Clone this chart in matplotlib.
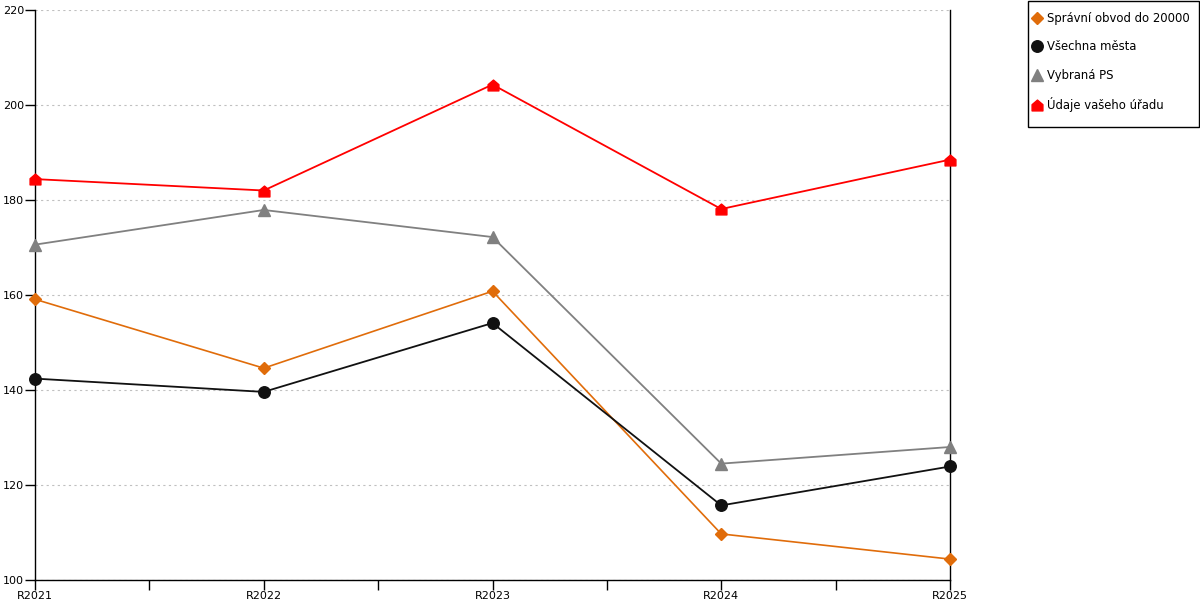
import matplotlib.pyplot as plt
from matplotlib.path import Path
from matplotlib.patches import Rectangle

years = ['R2021', 'R2022', 'R2023', 'R2024', 'R2025']

spravni_obvod = [159.1, 144.6, 160.8, 109.7, 104.4]
vsechna_mesta = [142.4, 139.6, 154.1, 115.7, 123.9]
vybrana_ps = [170.6, 177.9, 172.2, 124.5, 128.0]
vas_urad = [184.4, 182.0, 204.3, 178.1, 188.5]

# house shaped marker (square with a roof)
house = Path([(-1, -1), (1, -1), (1, 0.15), (0, 1), (-1, 0.15), (-1, -1)],
             [Path.MOVETO, Path.LINETO, Path.LINETO, Path.LINETO, Path.LINETO, Path.CLOSEPOLY])

plt.rcParams['font.family'] = ['DejaVu Sans']

fig = plt.figure(figsize=(12, 6), dpi=100)
ax = fig.add_axes([35 / 1200, 20 / 600, 915 / 1200, 570 / 600])

x = list(range(len(years)))
ax.plot(x, spravni_obvod, color='#E06C0A', lw=1.2, marker='D', ms=6,
        label='Správní obvod do 20000', clip_on=False, zorder=3)
ax.plot(x, vsechna_mesta, color='#111111', lw=1.3, marker='o', ms=8.3,
        label='Všechna města', clip_on=False, zorder=3)
ax.plot(x, vybrana_ps, color='#808080', lw=1.3, marker='^', ms=8.3,
        label='Vybraná PS', clip_on=False, zorder=3)
ax.plot(x, vas_urad, color='#FF0000', lw=1.3, marker=house, ms=7.8,
        label='Údaje vašeho úřadu', clip_on=False, zorder=3)

ax.set_xlim(0, 4)
ax.set_ylim(100, 220)
ax.set_yticks(range(100, 221, 20))
ax.set_xticks(x)
ax.set_xticklabels(years)
ax.set_xticks([0.5, 1.5, 2.5, 3.5], minor=True)
ax.tick_params(axis='both', which='both', direction='out', length=7, width=1,
               labelsize=8, colors='black', pad=1)
ax.grid(axis='y', color='#c0c0c0', linestyle=(0, (2, 3)), lw=0.8)
ax.set_axisbelow(True)
ax.spines['top'].set_visible(False)
for s in ['left', 'bottom', 'right']:
    ax.spines[s].set_color('black')
    ax.spines[s].set_linewidth(1)

# legend box drawn separately so its size matches the original
fig.patches.append(Rectangle((1027.5 / 1200, 473 / 600), 171 / 1200, 126.5 / 600,
                             transform=fig.transFigure, facecolor='white',
                             edgecolor='black', lw=1, zorder=1))
leg = fig.legend(loc='upper left', bbox_to_anchor=(1033 / 1200, 588 / 600),
                 fontsize=8.4, frameon=False, handlelength=0.6,
                 handletextpad=0.6, labelspacing=1.32, borderpad=0,
                 borderaxespad=0)
leg.set_zorder(2)
for h in leg.legend_handles:
    h.set_linestyle('none')

fig.savefig('out.png', dpi=100)
